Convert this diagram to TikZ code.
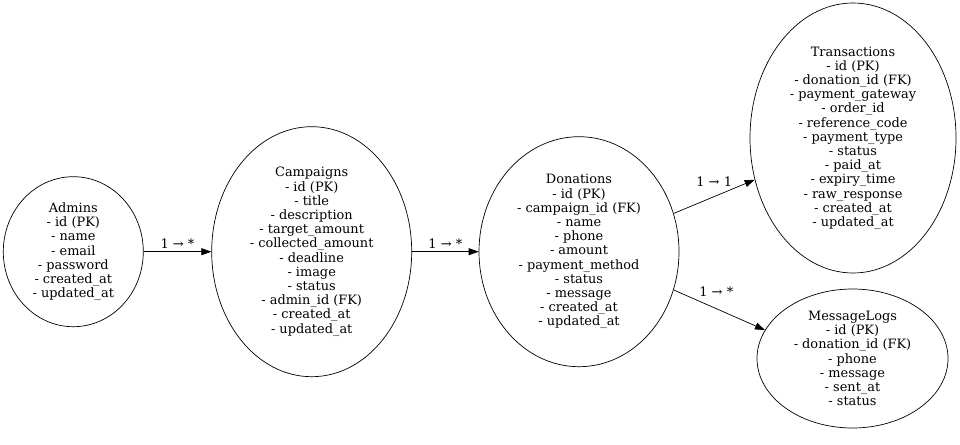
\documentclass[tikz,border=0pt]{standalone}
\usepackage{fontspec}
\setmainfont{DejaVu Serif}
\usetikzlibrary{shapes.geometric,arrows.meta}
\begin{document}
\begin{tikzpicture}[x=1pt,y=-1pt,
  ent/.style={draw,ellipse,inner sep=0pt,align=center,font=\fontsize{12.9}{14.2}\selectfont,line width=0.7pt},
  rel/.style={-{Triangle[length=10pt,width=7pt]},line width=0.7pt},
  lbl/.style={font=\fontsize{13}{14}\selectfont,inner sep=0pt}]
\useasboundingbox (0,0) rectangle (960,444);
\node[ent,minimum width=140,minimum height=150] (adm) at (73.3,251.7)
  {Admins\\- id (PK)\\- name\\- email\\- password\\- created\_at\\- updated\_at};
\node[ent,minimum width=200,minimum height=250] (cmp) at (311.7,251.7)
  {Campaigns\\- id (PK)\\- title\\- description\\- target\_amount\\- collected\_amount\\- deadline\\- image\\- status\\- admin\_id (FK)\\- created\_at\\- updated\_at};
\node[ent,minimum width=200,minimum height=230] (don) at (579,251.7)
  {Donations\\- id (PK)\\- campaign\_id (FK)\\- name\\- phone\\- amount\\- payment\_method\\- status\\- message\\- created\_at\\- updated\_at};
\node[ent,minimum width=206,minimum height=270] (trn) at (853,138)
  {Transactions\\- id (PK)\\- donation\_id (FK)\\- payment\_gateway\\- order\_id\\- reference\_code\\- payment\_type\\- status\\- paid\_at\\- expiry\_time\\- raw\_response\\- created\_at\\- updated\_at};
\node[ent,minimum width=191,minimum height=139] (msg) at (852.5,358.5)
  {MessageLogs\\- id (PK)\\- donation\_id (FK)\\- phone\\- message\\- sent\_at\\- status};
\draw[rel] (adm) -- node[lbl,midway,yshift=8pt] (l1) {1 → *} (cmp);
\draw[rel] (cmp) -- node[lbl,midway,yshift=8pt] (l2) {1 → *} (don);
\draw[rel] (don.22) -- node[lbl,midway,yshift=15pt] (l3) {1 → 1} (trn.203);
\draw[rel] (don.-22.5) -- node[lbl,midway,xshift=-3pt,yshift=18pt] (l4) {1 → *} (msg.162);
\end{tikzpicture}
\end{document}
